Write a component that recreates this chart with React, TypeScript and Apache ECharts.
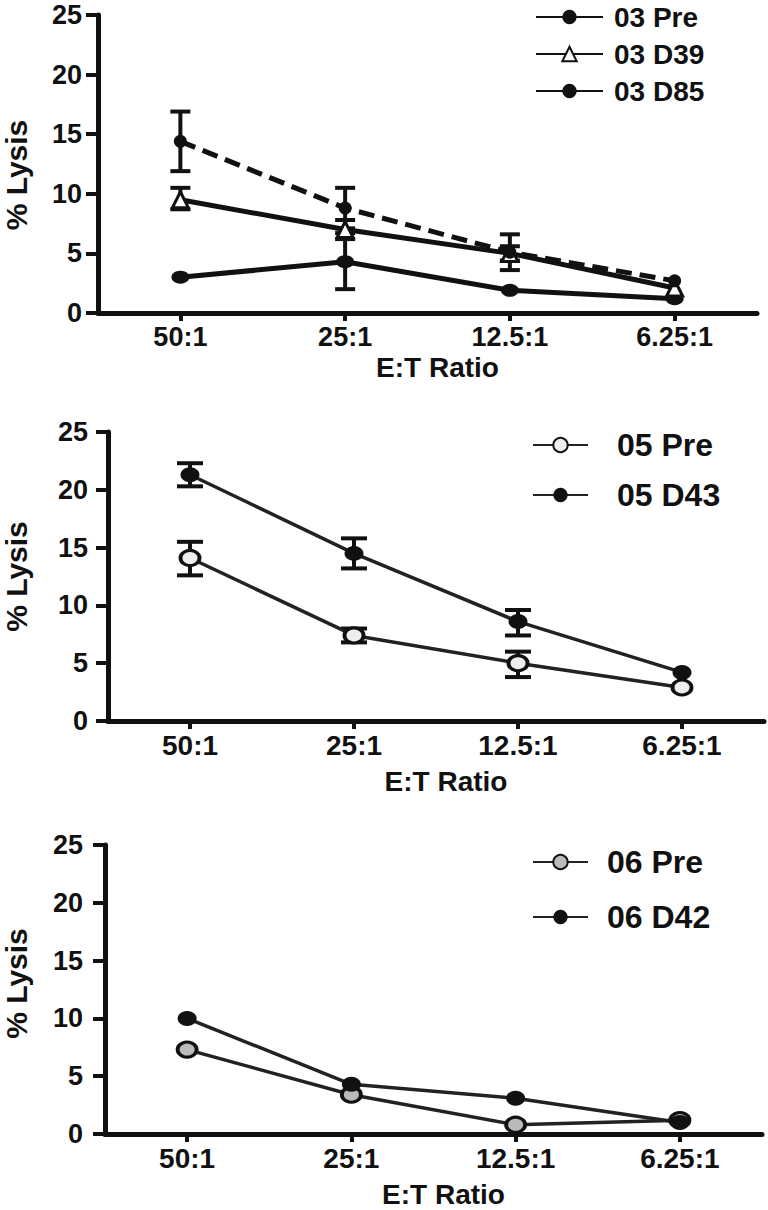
import React, { useEffect, useRef } from "react";
import * as echarts from "echarts";

// ---------- data ----------
const categories = ["50:1", "25:1", "12.5:1", "6.25:1"];
const yTicks = [0, 5, 10, 15, 20, 25];

// Panel 1 (patient 03)
const p03Pre = [3.0, 4.3, 1.9, 1.2];
const p03PreLo = [3.0, 2.0, 1.9, 1.2];
const p03PreHi = [3.0, 6.7, 1.9, 1.2];
const p03D39 = [9.5, 7.0, 5.0, 2.1];
const p03D39Lo = [8.7, 6.2, 4.4, 2.1];
const p03D39Hi = [10.5, 7.8, 5.6, 2.1];
const p03D85 = [14.4, 8.8, 5.1, 2.7];
const p03D85Lo = [11.9, 7.1, 3.6, 2.7];
const p03D85Hi = [16.9, 10.5, 6.6, 2.7];

// Panel 2 (patient 05)
const p05Pre = [14.1, 7.4, 5.0, 2.9];
const p05PreLo = [12.6, 6.8, 3.8, 2.9];
const p05PreHi = [15.5, 8.0, 6.0, 2.9];
const p05D43 = [21.3, 14.5, 8.6, 4.2];
const p05D43Lo = [20.3, 13.2, 7.4, 4.2];
const p05D43Hi = [22.3, 15.8, 9.6, 4.2];

// Panel 3 (patient 06)
const p06Pre = [7.3, 3.4, 0.8, 1.2];
const p06D42 = [10.0, 4.3, 3.1, 1.0];

const FONT = '"Liberation Sans", Arial, Helvetica, sans-serif';
const INK = "#111";

function errData(lo: number[], hi: number[]) {
  return lo.map((l, i) => [i, l, hi[i]]);
}

function errSeries(name: string, idx: number, lo: number[], hi: number[], capHalf: number, width: number) {
  return {
    type: "custom",
    name,
    xAxisIndex: idx,
    yAxisIndex: idx,
    z: 3,
    silent: true,
    encode: { x: 0, y: [1, 2] },
    data: errData(lo, hi),
    renderItem: (params: any, api: any) => {
      const i = api.value(0);
      const l = api.value(1);
      const h = api.value(2);
      if (Math.abs(h - l) < 1e-9) return null;
      const pLo = api.coord([i, l]);
      const pHi = api.coord([i, h]);
      const st = { stroke: INK, lineWidth: width };
      return {
        type: "group",
        children: [
          { type: "line", shape: { x1: pLo[0], y1: pLo[1], x2: pHi[0], y2: pHi[1] }, style: st },
          { type: "line", shape: { x1: pLo[0] - capHalf, y1: pLo[1], x2: pLo[0] + capHalf, y2: pLo[1] }, style: st },
          { type: "line", shape: { x1: pHi[0] - capHalf, y1: pHi[1], x2: pHi[0] + capHalf, y2: pHi[1] }, style: st },
        ],
      };
    },
  };
}

function xAxisCfg(gridIndex: number, nameGap: number, fontSize: number) {
  return {
    type: "category",
    gridIndex,
    data: categories,
    boundaryGap: true,
    axisLine: { show: true, lineStyle: { color: INK, width: 5 } },
    axisTick: { show: true, alignWithLabel: true, length: 8, lineStyle: { color: INK, width: 4 } },
    axisLabel: { color: INK, fontSize, fontWeight: "bold", fontFamily: FONT, margin: 10 },
    splitLine: { show: false },
    name: "E:T Ratio",
    nameLocation: "middle",
    nameGap,
    nameTextStyle: { color: INK, fontSize: 28, fontWeight: "bold", fontFamily: FONT, padding: [0, 0, 0, 20] },
  };
}

function yAxisCfg(gridIndex: number, nameGap: number, margin: number, namePad: number[]) {
  return {
    type: "value",
    gridIndex,
    min: yTicks[0],
    max: yTicks[yTicks.length - 1],
    interval: yTicks[1] - yTicks[0],
    axisLine: { show: true, lineStyle: { color: INK, width: 5 } },
    axisTick: { show: true, length: 12, lineStyle: { color: INK, width: 4 } },
    axisLabel: { color: INK, fontSize: 27, fontWeight: "bold", fontFamily: FONT, margin },
    splitLine: { show: false },
    name: "% Lysis",
    nameLocation: "middle",
    nameGap,
    nameTextStyle: { color: INK, fontSize: 30, fontWeight: "bold", fontFamily: FONT, padding: namePad },
  };
}

function lineSeries(name: string, idx: number, data: number[], opts: any) {
  return {
    type: "line",
    name,
    xAxisIndex: idx,
    yAxisIndex: idx,
    data,
    z: 4,
    symbol: opts.symbol,
    symbolSize: opts.symbolSize,
    showAllSymbol: true,
    lineStyle: { color: opts.lineColor || INK, width: opts.width, type: opts.dash || "solid" },
    itemStyle: { color: opts.fill, borderColor: INK, borderWidth: opts.borderWidth || 0 },
  };
}

export default function App() {
  const ref = useRef<HTMLDivElement>(null);

  useEffect(() => {
    document.body.style.margin = "0";
    if (!ref.current) return;
    const chart = echarts.init(ref.current, undefined, { renderer: "svg" });

    const legendText = (size: number, pad: number) => ({
      color: INK,
      fontSize: size,
      fontWeight: "bold",
      fontFamily: FONT,
      padding: [0, 0, 0, pad],
    });

    const option: any = {
      animation: false,
      backgroundColor: "#fff",
      grid: [
        { left: 98, top: 15, width: 659, height: 298, containLabel: false, outerBoundsMode: "none" },
        { left: 108, top: 432, width: 656, height: 289, containLabel: false, outerBoundsMode: "none" },
        { left: 105, top: 845, width: 657, height: 289, containLabel: false, outerBoundsMode: "none" },
      ],
      xAxis: [xAxisCfg(0, 40, 27), xAxisCfg(1, 46, 28), xAxisCfg(2, 46, 28)],
      yAxis: [
        yAxisCfg(0, 67, 16, [0, 22, 0, 0]),
        yAxisCfg(1, 77, 20, [0, 0, 0, 0]),
        yAxisCfg(2, 74, 22, [0, 0, 0, 12]),
      ],
      legend: [
        {
          orient: "vertical",
          left: 535,
          top: 3,
          padding: 0,
          itemWidth: 67,
          itemHeight: 18,
          itemGap: 9,
          lineStyle: { type: "solid" },
          textStyle: legendText(28, 6),
          data: ["03 Pre", "03 D39", "03 D85"],
          selectedMode: false,
        },
        {
          orient: "vertical",
          left: 532,
          top: 429,
          padding: 0,
          itemWidth: 55,
          itemHeight: 18,
          itemGap: 18,
          textStyle: legendText(32, 24),
          data: ["05 Pre", "05 D43"],
          selectedMode: false,
        },
        {
          orient: "vertical",
          left: 532,
          top: 846,
          padding: 0,
          itemWidth: 55,
          itemHeight: 18,
          itemGap: 23,
          textStyle: legendText(32, 14),
          data: ["06 Pre", "06 D42"],
          selectedMode: false,
        },
      ],
      series: [
        // panel 1
        errSeries("e03Pre", 0, p03PreLo, p03PreHi, 10, 4),
        errSeries("e03D39", 0, p03D39Lo, p03D39Hi, 10, 4),
        errSeries("e03D85", 0, p03D85Lo, p03D85Hi, 10, 4),
        lineSeries("03 Pre", 0, p03Pre, { symbol: "circle", symbolSize: [18, 13], width: 5, fill: INK }),
        lineSeries("03 D39", 0, p03D39, { symbol: "triangle", symbolSize: 16, width: 5, fill: "#fff", borderWidth: 3 }),
        lineSeries("03 D85", 0, p03D85, { symbol: "circle", symbolSize: 13, width: 5, fill: INK, dash: [16, 8] }),
        // panel 2
        errSeries("e05Pre", 1, p05PreLo, p05PreHi, 13, 4),
        errSeries("e05D43", 1, p05D43Lo, p05D43Hi, 13, 4),
        lineSeries("05 Pre", 1, p05Pre, { symbol: "circle", symbolSize: [19, 15], width: 3.5, fill: "#eee", borderWidth: 3.5, lineColor: "#222" }),
        lineSeries("05 D43", 1, p05D43, { symbol: "circle", symbolSize: [19, 15], width: 3.5, fill: INK, lineColor: "#222" }),
        // panel 3
        lineSeries("06 Pre", 2, p06Pre, { symbol: "circle", symbolSize: [19, 15], width: 3.5, fill: "#bbb", borderWidth: 3.5, lineColor: "#222" }),
        lineSeries("06 D42", 2, p06D42, { symbol: "circle", symbolSize: [19, 15], width: 3.5, fill: INK, lineColor: "#222" }),
      ],
    };

    chart.setOption(option);
    return () => chart.dispose();
  }, []);

  return (
    <div
      ref={ref}
      style={{ position: "absolute", left: 0, top: 0, width: 768, height: 1210, background: "#fff" }}
    />
  );
}
